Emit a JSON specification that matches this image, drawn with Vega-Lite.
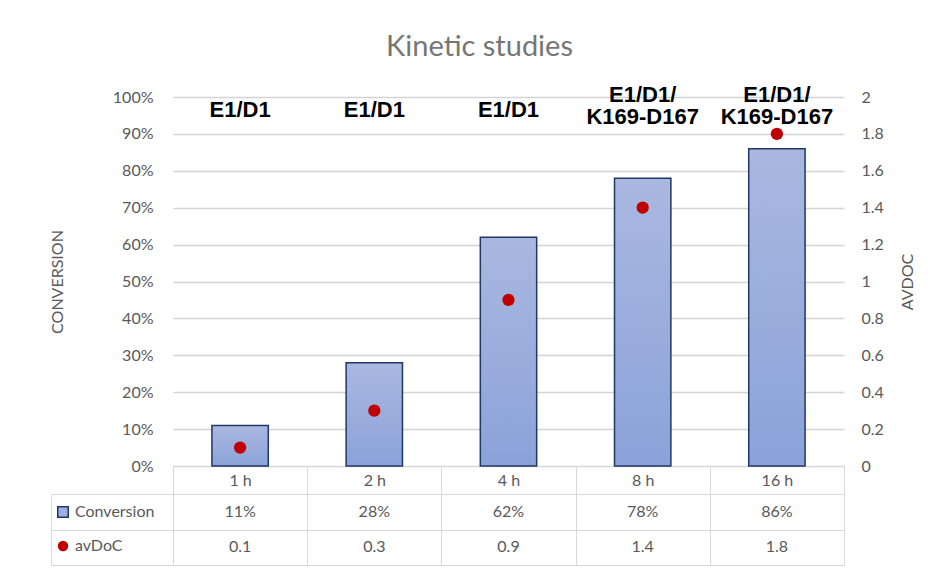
{
  "$schema": "https://vega.github.io/schema/vega-lite/v6.json",
  "padding": {"left": 49, "top": 33, "right": 10, "bottom": 3},
  "config": {
    "font": "Lato",
    "axis": {"labelFont": "Lato", "titleFont": "Lato", "labelColor": "#595959", "titleColor": "#595959", "titleFontWeight": "normal"},
    "legend": {"labelFont": "Lato"}
  },
  "data": {
    "values": [
      {"time": "1 h", "Conversion": 0.11, "avDoC": 0.1, "label": "E1/D1"},
      {"time": "2 h", "Conversion": 0.28, "avDoC": 0.3, "label": "E1/D1"},
      {"time": "4 h", "Conversion": 0.62, "avDoC": 0.9, "label": "E1/D1"},
      {"time": "8 h", "Conversion": 0.78, "avDoC": 1.4, "label": "E1/D1/\nK169-D167"},
      {"time": "16 h", "Conversion": 0.86, "avDoC": 1.8, "label": "E1/D1/\nK169-D167"}
    ]
  },
  "spacing": 28,
  "bounds": "flush",
  "vconcat": [
    {
      "width": 671,
      "height": 369,
      "view": {"stroke": null},
      "title": {"text": "Kinetic studies", "font": "Lato", "fontSize": 29, "fontWeight": "normal", "color": "#767676", "offset": 22, "dx": -29},
      "encoding": {
        "x": {
          "field": "time", "type": "nominal", "sort": null,
          "scale": {"paddingInner": 0, "paddingOuter": 0},
          "axis": {"title": null, "labelAngle": 0, "domain": true, "domainColor": "#d9d9d9", "ticks": true, "tickBand": "extent", "tickSize": 28, "tickColor": "#d9d9d9", "labelPadding": -22, "labelFontSize": 16, "grid": false}
        }
      },
      "layer": [
        {
          "mark": {
            "type": "bar",
            "width": {"band": 0.42},
            "color": {"gradient": "linear", "x1": 0, "y1": 0, "x2": 0, "y2": 1, "stops": [{"offset": 0, "color": "#aab8e0"}, {"offset": 1, "color": "#8ba2d9"}]},
            "stroke": "#203864",
            "strokeWidth": 1.5
          },
          "encoding": {
            "y": {
              "field": "Conversion", "type": "quantitative",
              "scale": {"domain": [0, 1]},
              "axis": {"title": "CONVERSION", "format": ".0%", "values": [0, 0.1, 0.2, 0.3, 0.4, 0.5, 0.6, 0.7, 0.8, 0.9, 1], "labelOverlap": false, "domain": false, "ticks": false, "grid": true, "gridColor": "#d4d4d4", "gridWidth": 1.3, "labelPadding": 20, "labelFontSize": 16, "titleFontSize": 16, "titlePadding": 47}
            }
          }
        },
        {
          "mark": {"type": "point", "filled": true, "color": "#c00000", "size": 150, "opacity": 1},
          "encoding": {
            "y": {
              "field": "avDoC", "type": "quantitative",
              "scale": {"domain": [0, 2]},
              "axis": {"orient": "right", "title": "AVDOC", "titleAngle": -90, "format": ".1~f", "values": [0, 0.2, 0.4, 0.6, 0.8, 1, 1.2, 1.4, 1.6, 1.8, 2], "labelOverlap": false, "domain": false, "ticks": false, "grid": false, "labelPadding": 17, "labelFontSize": 16, "titleFontSize": 16, "titlePadding": 32}
            }
          }
        },
        {
          "transform": [{"filter": "indexof(datum.label, '\\n') < 0"}],
          "mark": {"type": "text", "font": "Liberation Sans", "fontWeight": "bold", "fontSize": 22, "color": "black", "baseline": "middle", "dy": 13},
          "encoding": {
            "y": {"datum": 2, "type": "quantitative", "scale": {"domain": [0, 2]}, "axis": null},
            "text": {"field": "label"}
          }
        },
        {
          "transform": [{"filter": "indexof(datum.label, '\\n') >= 0"}],
          "mark": {"type": "text", "font": "Liberation Sans", "fontWeight": "bold", "fontSize": 22, "color": "black", "baseline": "middle", "dy": -2, "lineBreak": "\n", "lineHeight": 22},
          "encoding": {
            "y": {"datum": 2, "type": "quantitative", "scale": {"domain": [0, 2]}, "axis": null},
            "text": {"field": "label"}
          }
        }
      ],
      "resolve": {"scale": {"y": "independent"}}
    },
    {
      "width": 671,
      "height": 71,
      "view": {"stroke": "#d9d9d9"},
      "transform": [
        {"fold": ["Conversion", "avDoC"], "as": ["series", "value"]},
        {"calculate": "datum.series === 'Conversion' ? format(datum.value, '.0%') : format(datum.value, '.1f')", "as": "txt"}
      ],
      "encoding": {
        "x": {
          "field": "time", "type": "nominal", "sort": null,
          "scale": {"paddingInner": 0, "paddingOuter": 0},
          "axis": {"title": null, "labels": false, "domain": false, "ticks": false, "grid": true, "tickBand": "extent", "gridColor": "#d9d9d9"}
        },
        "y": {
          "field": "series", "type": "nominal",
          "scale": {"domain": ["Conversion", "avDoC"], "paddingInner": 0, "paddingOuter": 0},
          "axis": {"title": null, "labels": false, "offset": 122, "domain": true, "domainColor": "#d9d9d9", "ticks": true, "tickBand": "extent", "tickSize": -122, "tickColor": "#d9d9d9", "grid": true, "gridColor": "#d9d9d9"}
        }
      },
      "layer": [
        {
          "mark": {"type": "text", "fontSize": 16, "color": "#595959", "font": "Lato"},
          "encoding": {"text": {"field": "txt"}}
        },
        {
          "mark": {"type": "point", "filled": true, "opacity": 0, "size": 110},
          "encoding": {
            "color": {"field": "series", "type": "nominal", "scale": {"domain": ["Conversion", "avDoC"], "range": ["#9fb0dc", "#c00000"]},
              "legend": {"title": null, "orient": "none", "legendX": -118, "legendY": 407, "symbolOpacity": 1, "labelFontSize": 16, "labelColor": "#595959", "rowPadding": 16, "symbolSize": 110, "labelOffset": 4,
                "encode": {"symbols": {"update": {"stroke": {"signal": "datum.value === 'Conversion' ? '#203864' : 'transparent'"}, "strokeWidth": {"value": 1.5}}}}}},
            "shape": {"field": "series", "type": "nominal", "scale": {"domain": ["Conversion", "avDoC"], "range": ["square", "circle"]}, "legend": null}
          }
        }
      ]
    }
  ]
}
